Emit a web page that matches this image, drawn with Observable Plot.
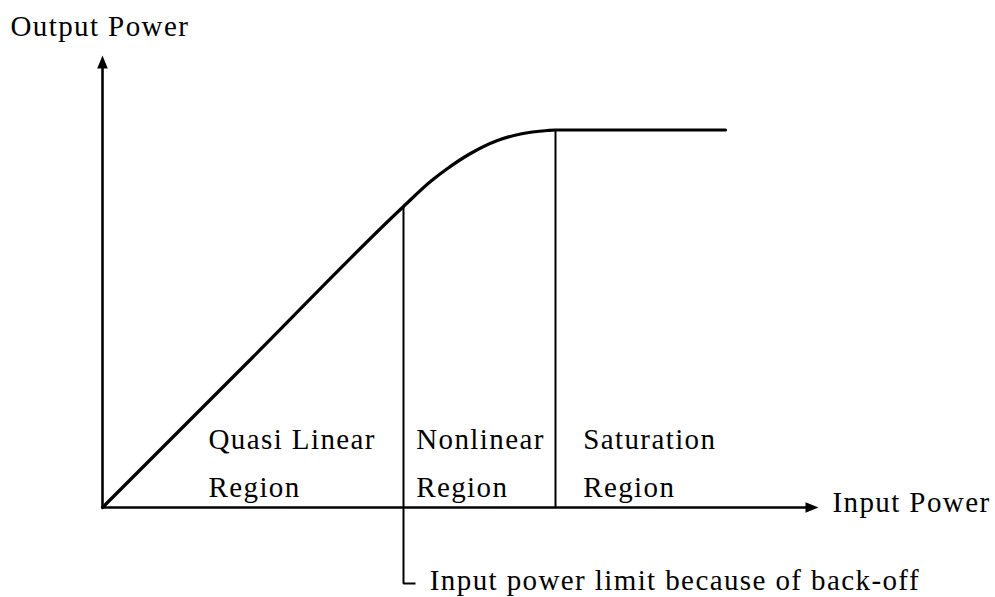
<!DOCTYPE html>
<html>
<head>
<meta charset="utf-8">
<script src="https://cdn.jsdelivr.net/npm/d3@7"></script>
<script src="https://cdn.jsdelivr.net/npm/@observablehq/plot@0.6"></script>
<style>
  html, body { margin: 0; padding: 0; background: #fff; }
</style>
</head>
<body>
<div id="chart"></div>
<script>
// Transfer characteristic (arbitrary power units; 1 unit = 1 on both axes)
const curveX = [0, 150, 301, 328, 345, 368, 395, 418, 445, 453, 623];
const curveY = [0, 150, 301, 326, 339, 354, 367, 373.5, 377, 377.5, 377.5];

// Region boundaries on the input axis
const backoffX = 301;      // input power limit because of back-off
const saturationX = 453;   // onset of saturation
const saturationY = 377.5;
const leaderY = -76;       // leader line end below the axis
const leaderX = 313;

// Axis extents
const xMax = 716;
const yMax = 452;

// Labels
const regionLabels = ["Quasi Linear\nRegion", "Nonlinear\nRegion", "Saturation\nRegion"];
const regionLabelX = [106, 313.7, 480.7];
const regionLabelY = 92.6;
const axisLabels = ["Output Power", "Input Power"];
const axisLabelX = [-92, 730];
const axisLabelY = [491.6, 15.6];
const noteLabel = "Input power limit because of back-off";
const noteX = 327.3;
const noteY = -61.7;

const curve = curveX.map((x, i) => ({x, y: curveY[i]}));
const regions = regionLabels.map((t, i) => ({x: regionLabelX[i], y: regionLabelY, t}));
const axes = axisLabels.map((t, i) => ({x: axisLabelX[i], y: axisLabelY[i], t}));

const arrowSymbol = {
  draw(context) {
    context.moveTo(0, 0);
    context.lineTo(-5.3, 13);
    context.lineTo(5.3, 13);
    context.closePath();
  }
};

const font = "'Palatino Linotype', 'Book Antiqua', Palatino, 'Liberation Serif', serif";

const chart = Plot.plot({
  width: 995,
  height: 597,
  marginLeft: 102,
  marginRight: 177,
  marginTop: 55,
  marginBottom: 90,
  x: {domain: [0, xMax], axis: null},
  y: {domain: [0, yMax], axis: null},
  style: {fontFamily: font, letterSpacing: "1.4px", background: "#fff", color: "#000"},
  marks: [
    // axes
    Plot.line([{x: 0, y: 0}, {x: xMax - 10, y: 0}], {x: "x", y: "y", stroke: "#000", strokeWidth: 2.6, strokeLinecap: "butt"}),
    Plot.line([{x: 0, y: 0}, {x: 0, y: yMax - 10}], {x: "x", y: "y", stroke: "#000", strokeWidth: 2.6, strokeLinecap: "butt"}),
    Plot.dot([{x: 0, y: yMax, r: 0}, {x: xMax, y: 0, r: 90}], {x: "x", y: "y", rotate: "r", symbol: arrowSymbol, fill: "#000", stroke: "none"}),
    // region boundaries
    Plot.line([{x: backoffX, y: backoffX}, {x: backoffX, y: leaderY}, {x: leaderX, y: leaderY}],
      {x: "x", y: "y", stroke: "#000", strokeWidth: 2, strokeLinecap: "butt", strokeLinejoin: "miter"}),
    Plot.line([{x: saturationX, y: saturationY}, {x: saturationX, y: 0}],
      {x: "x", y: "y", stroke: "#000", strokeWidth: 2, strokeLinecap: "butt"}),
    // transfer curve
    Plot.line(curve, {x: "x", y: "y", curve: "monotone-x", stroke: "#000", strokeWidth: 3.2}),
    // labels
    Plot.text(regions, {x: "x", y: "y", text: "t", textAnchor: "start", lineAnchor: "top", lineHeight: 1.655, fontSize: 29, fill: "#000"}),
    Plot.text(axes, {x: "x", y: "y", text: "t", textAnchor: "start", lineAnchor: "top", fontSize: 29, fill: "#000"}),
    Plot.text([{x: noteX, y: noteY, t: noteLabel}], {x: "x", y: "y", text: "t", textAnchor: "start", lineAnchor: "top", fontSize: 29, fill: "#000"})
  ]
});
document.getElementById("chart").appendChild(chart);
</script>
</body>
</html>
